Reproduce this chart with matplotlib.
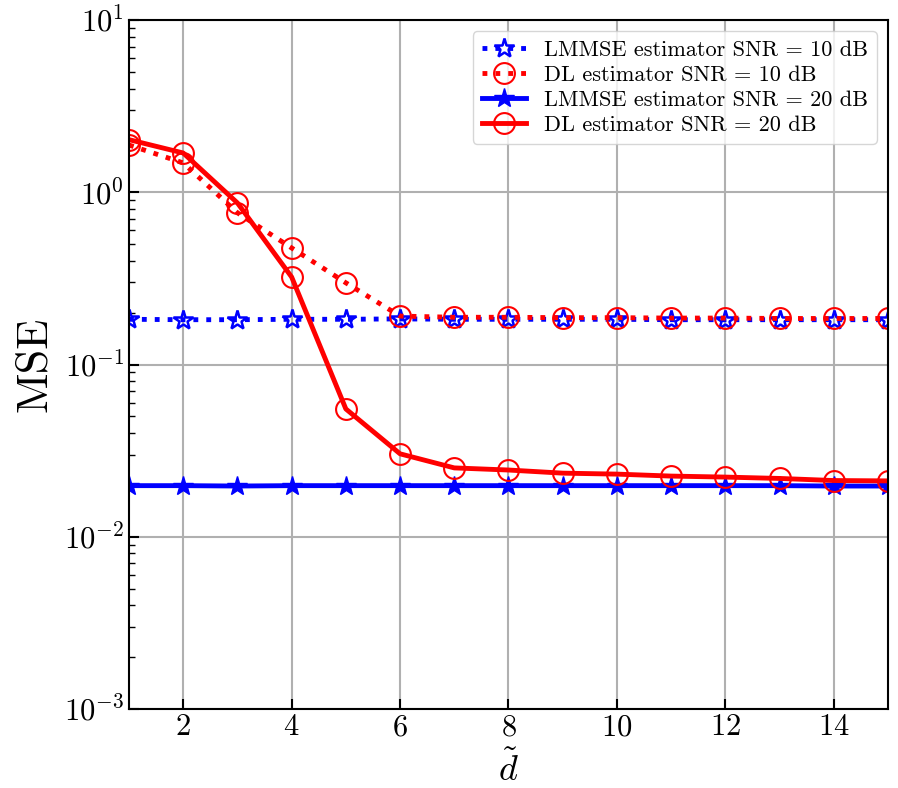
import matplotlib
matplotlib.use("Agg")
import matplotlib.pyplot as plt

plt.rcParams["font.family"] = "serif"
plt.rcParams["font.serif"] = ["cmr10"]
plt.rcParams["mathtext.fontset"] = "cm"
plt.rcParams["axes.formatter.use_mathtext"] = True
plt.rcParams["axes.unicode_minus"] = True

d_tilde = [1, 2, 3, 4, 5, 6, 7, 8, 9, 10, 11, 12, 13, 14, 15]

mse_lmmse_10db = [0.183, 0.182, 0.182, 0.183, 0.183, 0.184, 0.183, 0.183,
                  0.183, 0.183, 0.182, 0.182, 0.182, 0.182, 0.182]
mse_dl_10db = [1.88, 1.48, 0.76, 0.475, 0.298, 0.191, 0.188, 0.188,
               0.187, 0.187, 0.186, 0.186, 0.185, 0.185, 0.185]
mse_lmmse_20db = [0.0198, 0.0198, 0.0197, 0.0198, 0.0198, 0.0198, 0.0198, 0.0198,
                  0.0198, 0.0198, 0.0198, 0.0198, 0.0198, 0.0197, 0.0197]
mse_dl_20db = [2.02, 1.69, 0.867, 0.322, 0.0552, 0.0303, 0.0251, 0.0244,
               0.0234, 0.0231, 0.0225, 0.0222, 0.0218, 0.0212, 0.0211]

labels = ["LMMSE estimator SNR = 10 dB", "DL estimator SNR = 10 dB",
          "LMMSE estimator SNR = 20 dB", "DL estimator SNR = 20 dB"]

fig = plt.figure(figsize=(8.98, 7.88), dpi=100)
ax = fig.add_axes([129 / 898, 1 - 709 / 788, (888 - 129) / 898, (709 - 20) / 788])

lw = 3.5
ms = 15
ax.plot(d_tilde, mse_lmmse_10db, ":", color="b", lw=lw, marker="*", ms=ms,
        mfc="none", mew=1.8, label=labels[0])
ax.plot(d_tilde, mse_dl_10db, ":", color="r", lw=lw, marker="o", ms=ms,
        mfc="none", mew=1.5, label=labels[1])
ax.plot(d_tilde, mse_lmmse_20db, "-", color="b", lw=lw, marker="*", ms=ms,
        label=labels[2])
ax.plot(d_tilde, mse_dl_20db, "-", color="r", lw=lw, marker="o", ms=ms,
        mfc="none", mew=1.5, label=labels[3])

ax.set_yscale("log")
ax.set_xlim(1, 15)
ax.set_ylim(1e-3, 1e1)
ax.set_xticks([2, 4, 6, 8, 10, 12, 14])
ax.grid(True, which="major", color="#b0b0b0", lw=1.5)
ax.set_axisbelow(True)

ax.tick_params(axis="both", which="both", direction="in", labelsize=22)
ax.tick_params(axis="both", which="major", length=7, width=1.5)
ax.tick_params(axis="both", which="minor", length=4, width=1.0)
for sp in ax.spines.values():
    sp.set_linewidth(1.5)

ax.set_xlabel(r"$\tilde{d}$", fontsize=26, labelpad=7)
ax.set_ylabel("MSE", fontsize=32, labelpad=6)

ax.legend(loc="upper right", fontsize=16, framealpha=0.8,
          borderaxespad=0.5, handlelength=2.0, labelspacing=0.25)

fig.savefig("out.png", dpi=100)
